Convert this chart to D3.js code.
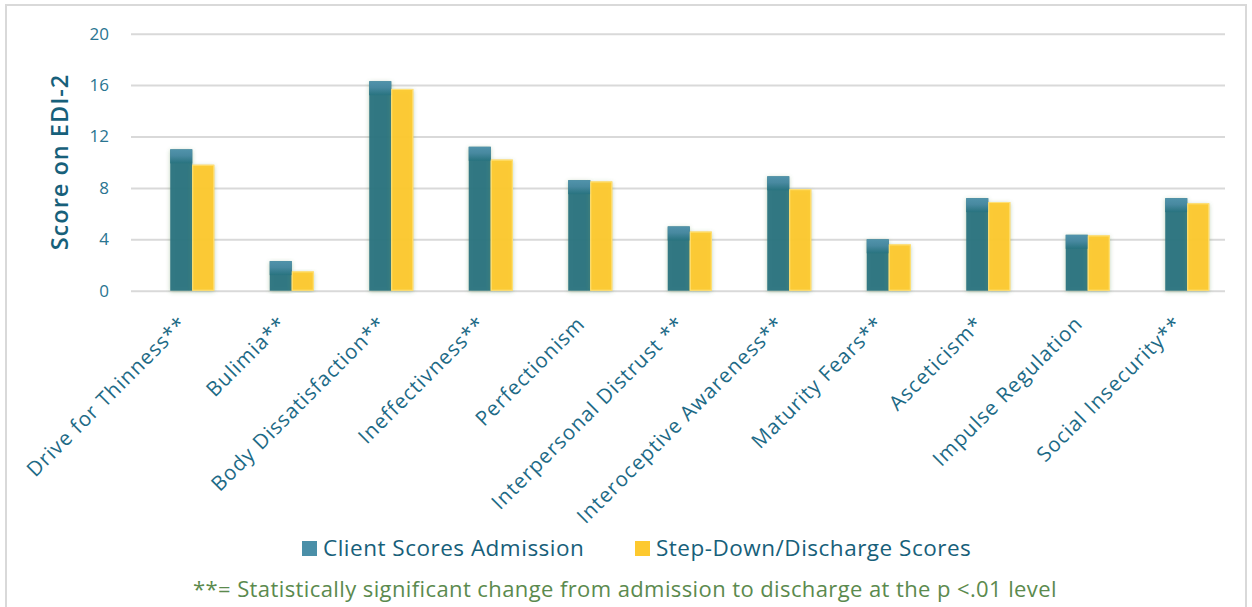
<!DOCTYPE html>
<html>
<head>
<meta charset="utf-8">
<script src="https://cdn.jsdelivr.net/npm/d3@7"></script>
<style>
  body { margin: 0; background: #fff; }
  svg { display: block; font-family: "Open Sans", Lato, sans-serif; }
</style>
</head>
<body>
<div id="chart"></div>
<script>
var categories = ["Drive for Thinness**", "Bulimia**", "Body Dissatisfaction**", "Ineffectivness**",
    "Perfectionism", "Interpersonal Distrust **", "Interoceptive Awareness**", "Maturity Fears**",
    "Asceticism*", "Impulse Regulation", "Social Insecurity**"];
var seriesNames = ["Client Scores Admission", "Step-Down/Discharge Scores"];
var admission = [11.0, 2.3, 16.3, 11.2, 8.6, 5.0, 8.9, 4.0, 7.2, 4.35, 7.2];
var discharge = [9.8, 1.5, 15.7, 10.2, 8.5, 4.6, 7.9, 3.6, 6.9, 4.3, 6.8];
var yTicks = [0, 4, 8, 12, 16, 20];
var yTitle = "Score on EDI-2";
var footnote = "**= Statistically significant change from admission to discharge at the p <.01 level";

var W = 1252, H = 607;
var plot = { left: 131, right: 1225, top: 33.7, bottom: 290.7 };
var colors = ["#28737f", "#fdc92f"];
var swatch = ["#4a8fa8", "#fdc92f"];

var svg = d3.select("#chart").append("svg")
    .attr("width", W)
    .attr("height", H);

// outer frame
svg.append("rect")
    .attr("x", 6).attr("y", 5)
    .attr("width", W - 12).attr("height", H + 20)
    .attr("fill", "none")
    .attr("stroke", "#d9d9d9")
    .attr("stroke-width", 2);

var defs = svg.append("defs");
var glow = defs.append("filter").attr("id", "glow")
    .attr("x", "-30%").attr("y", "-10%").attr("width", "160%").attr("height", "120%");
glow.append("feDropShadow")
    .attr("dx", 0).attr("dy", 1)
    .attr("stdDeviation", 2)
    .attr("flood-color", "#5f9152")
    .attr("flood-opacity", 0.45);

var topShade = defs.append("linearGradient").attr("id", "topShade")
    .attr("x1", 0).attr("y1", 0).attr("x2", 0).attr("y2", 1);
topShade.append("stop").attr("offset", "0%").attr("stop-color", "#5193ab");
topShade.append("stop").attr("offset", "45%").attr("stop-color", "#4889a0");
topShade.append("stop").attr("offset", "100%").attr("stop-color", "#28737f");

var x = d3.scaleBand()
    .domain(categories)
    .range([142.5, 1237])
    .padding(0);

var x1 = d3.scaleBand()
    .domain(seriesNames)
    .range([0, x.bandwidth()])
    .paddingInner(0)
    .paddingOuter(1.26);

var y = d3.scaleLinear()
    .domain([0, 20])
    .range([plot.bottom, plot.top]);

// gridlines
svg.append("g")
    .attr("transform", "translate(" + plot.left + ",0)")
    .call(d3.axisLeft(y).tickValues(yTicks).tickSize(-(plot.right - plot.left)).tickFormat(""))
    .call(function (g) { g.select(".domain").remove(); })
    .selectAll(".tick line")
    .attr("stroke", "#d9d9d9")
    .attr("stroke-width", 2);

// tick labels
svg.append("g")
    .attr("transform", "translate(109,0)")
    .call(d3.axisLeft(y).tickValues(yTicks).tickSize(0).tickPadding(0))
    .call(function (g) { g.select(".domain").remove(); })
    .selectAll("text")
    .attr("fill", "#2a7591")
    .style("font-family", "'Open Sans', sans-serif")
    .style("font-size", "17px");

var rows = categories.map(function (c, i) {
    return { cat: c, values: [admission[i], discharge[i]] };
});

var groups = svg.append("g").selectAll("g")
    .data(rows)
    .enter().append("g")
    .attr("transform", function (d) { return "translate(" + x(d.cat) + ",0)"; });

groups.selectAll("rect.bar")
    .data(function (d) {
        return d.values.map(function (v, k) { return { key: seriesNames[k], k: k, value: v }; });
    })
    .enter().append("rect")
    .attr("class", "bar")
    .attr("x", function (d) { return x1(d.key); })
    .attr("width", x1.bandwidth())
    .attr("y", function (d) { return y(d.value); })
    .attr("height", function (d) { return y(0) - y(d.value); })
    .attr("fill", function (d) { return colors[d.k]; })
    .attr("fill-opacity", 0.95)
    .attr("filter", "url(#glow)");

// lighter cap on the admission bars
groups.append("rect")
    .attr("x", x1(seriesNames[0]))
    .attr("width", x1.bandwidth())
    .attr("y", function (d) { return y(d.values[0]); })
    .attr("height", 14)
    .attr("fill", "url(#topShade)");

// yellow bars get a thin light edge
groups.append("rect")
    .attr("x", x1(seriesNames[1]) + 0.5)
    .attr("width", x1.bandwidth() - 1)
    .attr("y", function (d) { return y(d.values[1]) + 0.5; })
    .attr("height", function (d) { return y(0) - y(d.values[1]) - 1; })
    .attr("fill", "none")
    .attr("stroke", "#ffe27a")
    .attr("stroke-width", 1);

// category labels
svg.append("g").selectAll("text")
    .data(categories)
    .enter().append("text")
    .attr("transform", function (d) {
        return "translate(" + (x(d) + x.bandwidth() / 2 - 4) + ",325) rotate(-45)";
    })
    .style("text-anchor", "end")
    .attr("font-size", "20.5px")
    .attr("letter-spacing", "1px")
    .attr("fill", "#1d6a86")
    .text(function (d) { return d; });

// y axis title
svg.append("text")
    .attr("transform", "translate(68,162) rotate(-90)")
    .style("text-anchor", "middle")
    .attr("font-size", "23.5px")
    .attr("font-weight", "600")
    .attr("letter-spacing", "1px")
    .attr("fill", "#17607a")
    .text(yTitle);

// legend
var legendX = [302, 635];
var legend = svg.append("g").selectAll("g")
    .data(seriesNames)
    .enter().append("g")
    .attr("transform", function (d, i) { return "translate(" + legendX[i] + ",541)"; });
legend.append("rect")
    .attr("width", 15).attr("height", 15)
    .attr("fill", function (d, i) { return swatch[i]; });
legend.append("text")
    .attr("x", 21).attr("y", 15)
    .attr("font-size", "22.5px")
    .attr("letter-spacing", "0.5px")
    .attr("fill", "#17607a")
    .text(function (d) { return d; });

svg.append("text")
    .attr("x", 625).attr("y", 597)
    .style("text-anchor", "middle")
    .attr("font-size", "22px")
    .attr("letter-spacing", "0.4px")
    .attr("fill", "#5b8a4e")
    .text(footnote);
</script>
</body>
</html>
